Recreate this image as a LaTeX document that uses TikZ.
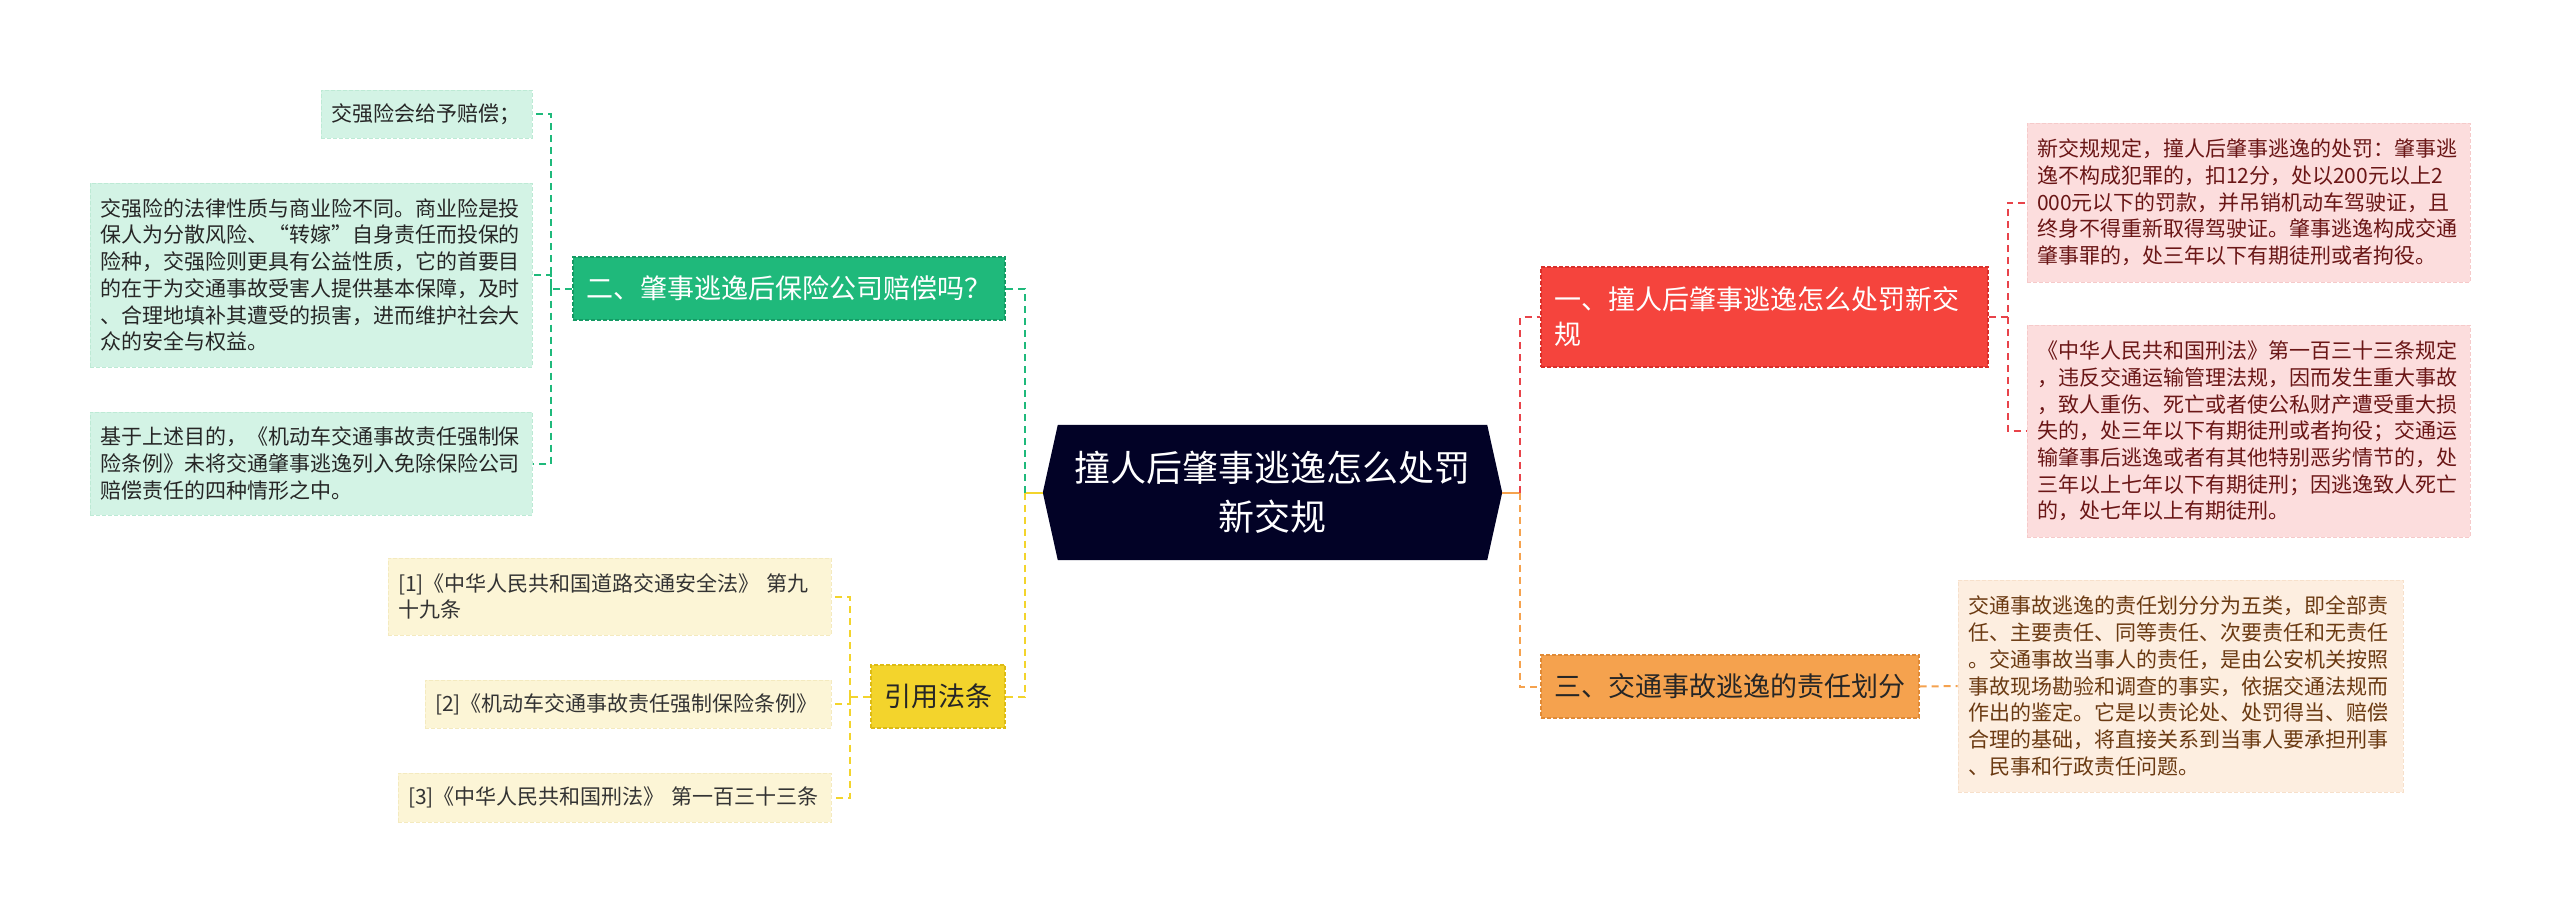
\documentclass[tikz,border=0pt]{standalone}
\usepackage{xcolor}
\usepackage{fontspec}
\setmainfont{Noto Sans CJK SC}
\usepackage{tikz}
\usetikzlibrary{calc, backgrounds}

\definecolor{rootbg}{HTML}{020226}
\definecolor{grn}{HTML}{1FB97B}
\definecolor{grnedge}{HTML}{159A64}
\definecolor{grnleaf}{HTML}{D3F3E5}
\definecolor{grnleafedge}{HTML}{BDEAD5}
\definecolor{rd}{HTML}{F5443D}
\definecolor{rdedge}{HTML}{D92F2A}
\definecolor{rdleaf}{HTML}{FCDDDD}
\definecolor{rdleafedge}{HTML}{F6CACA}
\definecolor{rdtext}{HTML}{6A1616}
\definecolor{rdlink}{HTML}{E8434A}
\definecolor{org}{HTML}{F5A24E}
\definecolor{orgedge}{HTML}{E08A36}
\definecolor{orgleaf}{HTML}{FDEEE0}
\definecolor{orgleafedge}{HTML}{F7E0CB}
\definecolor{orgtext}{HTML}{6B3A12}
\definecolor{ylw}{HTML}{F3D42C}
\definecolor{ylwedge}{HTML}{DDBB14}
\definecolor{ylwleaf}{HTML}{FCF5D6}
\definecolor{ylwleafedge}{HTML}{F4EABF}

\newcommand{\rootsize}{\fontsize{36}{49}\selectfont}
\newcommand{\branchsize}{\fontsize{27}{35}\selectfont}
\newcommand{\leafsize}{\fontsize{21}{26.7}\selectfont}

\tikzset{
  branch/.style={rectangle, inner xsep=13pt, inner ysep=0pt, align=left,
    font=\branchsize, line width=1.2pt, dash pattern=on 4pt off 2pt},
  leaf/.style={rectangle, inner xsep=10pt, inner ysep=0pt, align=left,
    font=\leafsize, line width=1pt, dash pattern=on 4pt off 2pt},
  link/.style={line width=2pt, dash pattern=on 7pt off 5pt},
}

\begin{document}
\begin{tikzpicture}[x=1pt, y=-1pt]
\useasboundingbox (0,0) rectangle (2560,911);

% centre
\node[inner sep=0pt, minimum width=459pt, minimum height=135pt, align=center,
  font=\rootsize, text=white] (root) at (1272.5,492.5) {撞人后肇事逃逸怎么处罚\\新交规};
\begin{scope}[on background layer]
\fill[rootbg] (root.west) -- ($(root.north west)+(15,0)$) -- ($(root.north east)+(-15,0)$)
  -- (root.east) -- ($(root.south east)+(-15,0)$) -- ($(root.south west)+(15,0)$) -- cycle;
\end{scope}

% branches
\node[branch, fill=grn, draw=grnedge, text=white, text width=406pt, minimum height=63pt]
  (b2) at (789,288.5) {二、肇事逃逸后保险公司赔偿吗？};
\node[branch, fill=ylw, draw=ylwedge, text=black!85, text width=108pt, minimum height=63pt]
  (b4) at (938,696.5) {引用法条};
\node[branch, fill=rd, draw=rdedge, text=white, text width=421pt, minimum height=100pt]
  (b1) at (1764.5,317) {一、撞人后肇事逃逸怎么处罚新交\\规};
\node[branch, fill=org, draw=orgedge, text=black!85, text width=352pt, minimum height=63pt]
  (b3) at (1730,686.5) {三、交通事故逃逸的责任划分};

% leaves, left
\node[leaf, fill=grnleaf, draw=grnleafedge, text=black!85, text width=191pt, minimum height=48pt]
  (g1) at (426.5,114) {交强险会给予赔偿；};
\node[leaf, fill=grnleaf, draw=grnleafedge, text=black!85, text width=422pt, minimum height=184pt]
  (g2) at (311,275) {交强险的法律性质与商业险不同。商业险是投\\保人为分散风险、“转嫁”自身责任而投保的\\险种，交强险则更具有公益性质，它的首要目\\的在于为交通事故受害人提供基本保障，及时\\、合理地填补其遭受的损害，进而维护社会大\\众的安全与权益。};
\node[leaf, fill=grnleaf, draw=grnleafedge, text=black!85, text width=422pt, minimum height=103pt]
  (g3) at (311,463.5) {基于上述目的，《机动车交通事故责任强制保\\险条例》未将交通肇事逃逸列入免除保险公司\\赔偿责任的四种情形之中。};
\node[leaf, fill=ylwleaf, draw=ylwleafedge, text=black!80, text width=423pt, minimum height=77pt]
  (y1) at (609.5,596.5) {[1]《中华人民共和国道路交通安全法》 第九\\十九条};
\node[leaf, fill=ylwleaf, draw=ylwleafedge, text=black!80, text width=386pt, minimum height=48pt]
  (y2) at (628,704) {[2]《机动车交通事故责任强制保险条例》};
\node[leaf, fill=ylwleaf, draw=ylwleafedge, text=black!80, text width=413pt, minimum height=49pt]
  (y3) at (614.5,797.5) {[3]《中华人民共和国刑法》 第一百三十三条};

% leaves, right
\node[leaf, fill=rdleaf, draw=rdleafedge, text=rdtext, text width=423pt, minimum height=159pt]
  (r1) at (2248.5,202.5) {新交规规定，撞人后肇事逃逸的处罚：肇事逃\\逸不构成犯罪的，扣12分，处以200元以上2\\000元以下的罚款，并吊销机动车驾驶证，且\\终身不得重新取得驾驶证。肇事逃逸构成交通\\肇事罪的，处三年以下有期徒刑或者拘役。};
\node[leaf, fill=rdleaf, draw=rdleafedge, text=rdtext, text width=423pt, minimum height=212pt]
  (r2) at (2248.5,431) {《中华人民共和国刑法》第一百三十三条规定\\，违反交通运输管理法规，因而发生重大事故\\，致人重伤、死亡或者使公私财产遭受重大损\\失的，处三年以下有期徒刑或者拘役；交通运\\输肇事后逃逸或者有其他特别恶劣情节的，处\\三年以上七年以下有期徒刑；因逃逸致人死亡\\的，处七年以上有期徒刑。};
\node[leaf, fill=orgleaf, draw=orgleafedge, text=orgtext, text width=425pt, minimum height=212pt]
  (o1) at (2180.5,686) {交通事故逃逸的责任划分分为五类，即全部责\\任、主要责任、同等责任、次要责任和无责任\\。交通事故当事人的责任，是由公安机关按照\\事故现场勘验和调查的事实，依据交通法规而\\作出的鉴定。它是以责论处、处罚得当、赔偿\\合理的基础，将直接关系到当事人要承担刑事\\、民事和行政责任问题。};

% links
\draw[ylw, line width=2pt] (root.west) -- ++(-18,0) coordinate (lj);
\draw[org, line width=2pt] (root.east) -- ++(18,0) coordinate (rj);
\draw[link, grn] (lj) |- (b2.east);
\draw[link, ylw] (lj) |- (b4.east);
\draw[link, rdlink] (rj) |- (b1.west);
\draw[link, org] (rj) |- (b3.west);

\draw[link, grn] (b2.west) -- ++(-21,0) coordinate (gt) |- (g1.east);
\draw[link, grn] (gt) |- (g2.east);
\draw[link, grn] (gt) |- (g3.east);

\draw[link, ylw] (b4.west) -- ++(-20,0) coordinate (yt) |- (y2.east);
\draw[link, ylw] (yt) |- (y1.east);
\draw[link, ylw] (yt) |- (y3.east);

\draw[link, rdlink] (b1.east) -- ++(19,0) coordinate (rt) |- (r1.west);
\draw[link, rdlink] (rt) |- (r2.west);

\draw[link, org] (b3.east) -- (o1.west);
\end{tikzpicture}
\end{document}
